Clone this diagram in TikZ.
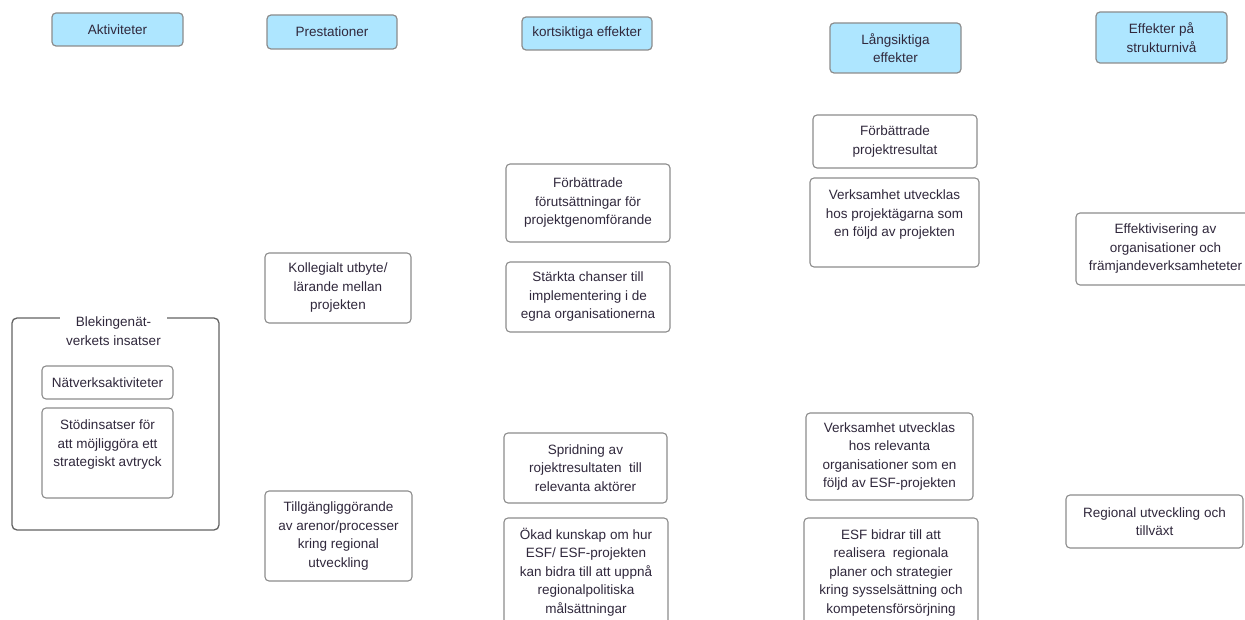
\documentclass[tikz,border=0pt]{standalone}
\usepackage{fontspec}
\setmainfont{Liberation Sans}
\definecolor{hdrblue}{HTML}{AEE6FF}
\definecolor{bordergray}{HTML}{8C8C8C}
\definecolor{textcol}{HTML}{30283C}
\tikzset{
  base/.style={align=center, inner sep=0pt, text=textcol, font=\fontsize{13.5}{18.5}\selectfont},
  hdr/.style={base, draw=bordergray, fill=hdrblue, rounded corners=4pt, line width=1.2pt},
  bx/.style={base, draw=bordergray, fill=white, rounded corners=4pt, line width=1.1pt},
  grp/.style={draw=bordergray!70!black, rounded corners=5pt, line width=1.3pt},
  ttl/.style={base, fill=white}
}
\begin{document}
\begin{tikzpicture}[x=1pt, y=-1pt]
\useasboundingbox (0,0) rectangle (1245,620);
% headers
\node[hdr, minimum width=131pt, minimum height=33pt] (h1) at (117.5,29.5) {Aktiviteter};
\node[hdr, minimum width=130pt, minimum height=34pt] (h2) at (332,32) {Prestationer};
\node[hdr, minimum width=130pt, minimum height=33pt] (h3) at (587,33.5) {kortsiktiga effekter};
\node[hdr, minimum width=131pt, minimum height=50pt] (h4) at (895.5,48) {Långsiktiga\\effekter};
\node[hdr, minimum width=131pt, minimum height=51pt] (h5) at (1161.5,37.5) {Effekter på\\strukturnivå};
% group
\draw[grp] (12,318) rectangle (219,530);
\node[ttl, minimum width=107pt] (gt) at (113.5,331) {Blekingenät-\\verkets insatser};
\node[bx, minimum width=131pt, minimum height=33pt] (a1) at (107.5,382.5) {Nätverksaktiviteter};
\node[bx, minimum width=131pt, minimum height=90pt,
  label={[base, yshift=8pt]center:Stödinsatser för\\att möjliggöra ett\\strategiskt avtryck}] (a2) at (107.5,453) {};
% prestationer
\node[bx, minimum width=146pt, minimum height=70pt] (p1) at (338,288) {Kollegialt utbyte/\\lärande mellan\\projekten};
\node[bx, minimum width=147pt, minimum height=90pt] (p2) at (338.5,536) {Tillgängliggörande\\av arenor/processer\\kring regional\\utveckling};
% kortsiktiga
\node[bx, minimum width=164pt, minimum height=78pt] (k1) at (588,203) {Förbättrade\\förutsättningar för\\projektgenomförande};
\node[bx, minimum width=164pt, minimum height=70pt] (k2) at (588,297) {Stärkta chanser till\\implementering i de\\egna organisationerna};
\node[bx, minimum width=163pt, minimum height=70pt] (k3) at (585.5,468) {Spridning av\\rojektresultaten~ till\\relevanta aktörer};
\node[bx, minimum width=164pt, minimum height=122pt,
  label={[base, yshift=7pt]center:Ökad kunskap om hur\\ESF/ ESF-projekten\\kan bidra till att uppnå\\regionalpolitiska\\målsättningar}] (k4) at (586,579) {};
% långsiktiga
\node[bx, minimum width=164pt, minimum height=53pt] (l1) at (895,141.5) {Förbättrade\\projektresultat};
\node[bx, minimum width=169pt, minimum height=89pt,
  label={[base, yshift=7.5pt]center:Verksamhet utvecklas\\hos projektägarna som\\en följd av projekten}] (l2) at (894.5,222.5) {};
\node[bx, minimum width=167pt, minimum height=87pt] (l3) at (889.5,456.5) {Verksamhet utvecklas\\hos relevanta\\organisationer som en\\följd av ESF-projekten};
\node[bx, minimum width=174pt, minimum height=122pt,
  label={[base, yshift=6pt]center:ESF bidrar till att\\realisera~ regionala\\planer och strategier\\kring sysselsättning och\\kompetensförsörjning}] (l4) at (891,579) {};
% struktur
\node[bx, minimum width=179pt, minimum height=72pt] (s1) at (1165.5,249) {Effektivisering av\\organisationer och\\främjandeverksamheteter};
\node[bx, minimum width=177pt, minimum height=53pt] (s2) at (1154.5,521.5) {Regional utveckling och\\tillväxt};
\end{tikzpicture}
\end{document}
